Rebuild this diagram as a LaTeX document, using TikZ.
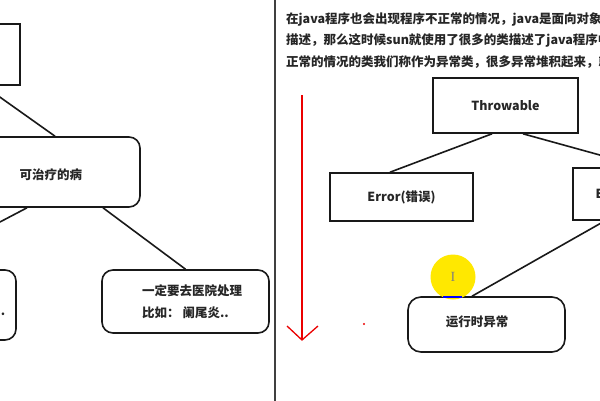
\documentclass[tikz,border=0pt]{standalone}
\usepackage{fontspec}
\setmainfont{Noto Sans CJK SC}
\newfontfamily\serifcur{Liberation Serif}
\begin{document}
\begin{tikzpicture}[x=1pt,y=-1pt,
  ln/.style={line width=1.6pt,draw=black!90},
  sqbox/.style={draw=black!90,line width=1.6pt,inner sep=0pt},
  rbox/.style={draw=black!90,line width=1.6pt,inner sep=0pt,rounded corners=11pt},
  txt/.style={font=\fontsize{12.5}{22}\selectfont\bfseries,text=black!85,inner sep=0pt},
  para/.style={txt,anchor=base west}]
\useasboundingbox (0,0) rectangle (600,400);
\clip (0,0) rectangle (600,400);
\fill[white] (0,0) rectangle (600,400);

% divider
\coordinate (dtop) at (275,-5);
\coordinate (dbot) at (275,405);
\draw[line width=2pt,black!75] (dtop) -- (dbot);

% left panel
\node[sqbox,minimum width=100pt,minimum height=61pt] (tl) at (-30,54.5) {};
\node[rbox,minimum width=178pt,minimum height=70pt] (cure) at (51,172) {};
\node[txt] (curetext) at (51,175) {可治疗的病};
\node[rbox,minimum width=172pt,minimum height=70pt] (lowl) at (-70,305) {};
\node[txt] (dot) at (3,314) {.};
\node[rbox,minimum width=167pt,minimum height=63pt] (hosp) at (185.5,301.5) {};
\node[txt,anchor=west,align=left] (hosptext) at (142,302) {一定要去医院处理\\比如： 阑尾炎..};

\draw[ln] ([xshift=14pt]tl.south) -- ([xshift=4pt]cure.north);
\draw[ln] ([xshift=-24pt]cure.south) -- ([xshift=-20pt]lowl.north);
\draw[ln] ([xshift=52pt]cure.south) -- (hosp.north);

% right panel text
\node[para] (p1) at (286,23) {在java程序也会出现程序不正常的情况，java是面向对象的};
\node[para] (p2) at (286,44.5) {描述，那么这时候sun就使用了很多的类描述了java程序中};
\node[para] (p3) at (286,66) {正常的情况的类我们称作为异常类，很多异常堆积起来，就};

% red arrow
\colorlet{arrred}{red!92!black}
\coordinate (atop) at (302,95);
\coordinate (abot) at (302,340);
\coordinate (al) at (287,326);
\coordinate (ar) at (318,326);
\draw[arrred,line width=1.3pt] (atop) -- (abot);
\draw[arrred,line width=1.3pt] (al) -- (abot) -- (ar);
\fill[arrred] (364,324) circle (1.1pt);

% hierarchy
\node[sqbox,minimum width=145pt,minimum height=55pt,txt] (thr) at (505.5,105.5) {Throwable};
\node[sqbox,minimum width=143pt,minimum height=48pt,txt] (err) at (401.5,197) {Error(错误)};
\node[sqbox,minimum width=142pt,minimum height=52pt,txt] (exc) at (644,194) {Exception(异常)};
\node[rbox,minimum width=157pt,minimum height=55pt,rounded corners=13pt] (run) at (486.5,324.5) {};
\node[txt] (runtext) at (477,322) {运行时异常};

\draw[ln] ([xshift=-13.5pt]thr.south) -- ([xshift=-11.5pt]err.north);
\draw[ln] ([xshift=17.5pt]thr.south) -- (exc.north);
\draw[ln] ([xshift=-39pt]exc.south) -- ([xshift=-14.5pt]run.north);

% cursor highlight
\node[circle,fill={rgb,255:red,255;green,232;blue,0},minimum size=45pt,inner sep=0pt,
      font=\fontsize{14}{14}\selectfont\serifcur,text=black!50] (cursor) at (453,277) {I};
\coordinate (bl) at (443,297);
\coordinate (br) at (462,297);
\draw[blue,line width=1.6pt] (bl) -- (br);
\end{tikzpicture}
\end{document}
